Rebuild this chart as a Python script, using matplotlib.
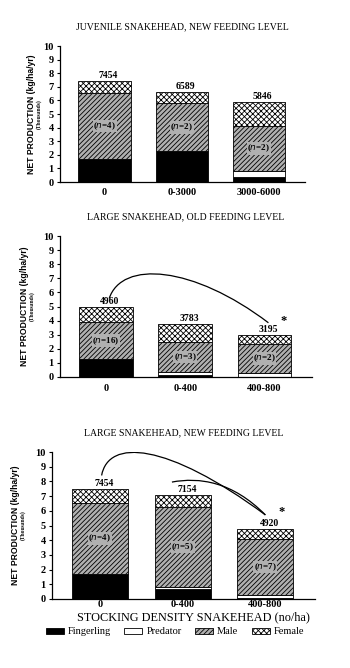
import numpy as np
import matplotlib
matplotlib.use("Agg")
import matplotlib.pyplot as plt
from matplotlib.path import Path
from matplotlib.patches import PathPatch, Patch

plt.rcParams['hatch.linewidth'] = 0.6
plt.rcParams['font.family'] = 'Liberation Serif'

# ---- data (thousands kg/ha/yr) ----
titles = ["JUVENILE SNAKEHEAD, NEW FEEDING LEVEL",
          "LARGE SNAKEHEAD, OLD FEEDING LEVEL",
          "LARGE SNAKEHEAD, NEW FEEDING LEVEL"]
cats_juv = ["0", "0-3000", "3000-6000"]
cats_old = ["0", "0-400", "400-800"]
cats_new = ["0", "0-400", "400-800"]

fing_juv = [1.70, 2.25, 0.35]
pred_juv = [0.00, 0.00, 0.45]
male_juv = [4.85, 3.55, 3.35]
fem_juv = [0.90, 0.79, 1.70]
tot_juv = [7454, 6589, 5846]
n_juv = [4, 2, 2]

fing_old = [1.25, 0.15, 0.00]
pred_old = [0.00, 0.20, 0.30]
male_old = [2.65, 2.15, 2.05]
fem_old = [1.06, 1.28, 0.62]
tot_old = [4960, 3783, 3195]
n_old = [16, 3, 2]

fing_new = [1.70, 0.65, 0.10]
pred_new = [0.00, 0.20, 0.15]
male_new = [4.85, 5.40, 3.85]
fem_new = [0.90, 0.80, 0.65]
tot_new = [7454, 7154, 4920]
n_new = [4, 5, 7]

panels = [
    (cats_juv, fing_juv, pred_juv, male_juv, fem_juv, tot_juv, n_juv),
    (cats_old, fing_old, pred_old, male_old, fem_old, tot_old, n_old),
    (cats_new, fing_new, pred_new, male_new, fem_new, tot_new, n_new),
]

fig = plt.figure(figsize=(3.5, 6.68), dpi=100)
W, H = 350, 668
# axes boxes in pixels: left, top, right, bottom
boxes = [(60, 46, 305, 182), (60, 236, 312, 377), (52, 452, 315, 599)]
label_x = [(-0.115, -0.088), (-0.14, -0.11), (-0.14, -0.11)]
xpad = [4, 5, 1]

styles = [dict(color='black', hatch=None),
          dict(color='white', hatch=None),
          dict(color='#b0b0b0', hatch='///////'),
          dict(color='white', hatch='xxxxxx')]

axes = []
for i, (cats, f, p, m, fe, tot, n) in enumerate(panels):
    l, t, r, b = boxes[i]
    ax = fig.add_axes([l / W, 1 - b / H, (r - l) / W, (b - t) / H])
    axes.append(ax)
    x = np.arange(len(cats))
    bottom = np.zeros(len(cats))
    for vals, st in zip([f, p, m, fe], styles):
        ax.bar(x, vals, 0.68, bottom=bottom, color=st['color'],
               hatch=st['hatch'], edgecolor='black', linewidth=0.6)
        bottom = bottom + np.array(vals)
    for xi, tv, top in zip(x, tot, bottom):
        ax.text(xi + 0.05, top + 0.08, str(tv), ha='center', va='bottom',
                fontsize=7, fontweight='bold')
    for xi, ni, fi, pi, mi in zip(x, n, f, p, m):
        ax.text(xi, fi + pi + mi / 2, f"($n$={ni})", ha='center', va='center',
                fontsize=6.5, fontweight='bold',
                bbox=dict(facecolor='#b0b0b0', edgecolor='none', pad=0.3))
    ax.set_xlim(-0.58, 2.6)
    ax.set_ylim(0, 10)
    ax.set_yticks(range(0, 11))
    ax.set_xticks(x)
    ax.set_xticklabels(cats)
    ax.tick_params(axis='x', length=0, pad=xpad[i], labelsize=7.5)
    ax.tick_params(axis='y', length=2.5, width=0.8, pad=2, labelsize=7.5)
    for lab in ax.get_xticklabels() + ax.get_yticklabels():
        lab.set_fontweight('bold')
    ax.spines['top'].set_visible(False)
    ax.spines['right'].set_visible(False)
    ax.spines['left'].set_linewidth(0.9)
    ax.spines['bottom'].set_linewidth(0.9)
    ax.set_title(titles[i], fontsize=7, pad=12)
    ax.text(label_x[i][0], 0.5, "NET PRODUCTION (kg/ha/yr)", rotation=90,
            transform=ax.transAxes, ha='center', va='center', fontsize=6.2,
            family='Liberation Sans', fontweight='bold')
    ax.text(label_x[i][1], 0.5, "(Thousands)", rotation=90,
            transform=ax.transAxes, ha='center', va='center', fontsize=4,
            fontweight='bold')

# connecting curves (significance marks)
def curve(ax, p0, c1, c2, p3):
    path = Path([p0, c1, c2, p3], [Path.MOVETO, Path.CURVE4, Path.CURVE4, Path.CURVE4])
    ax.add_patch(PathPatch(path, facecolor='none', edgecolor='black', lw=0.9))

ax2 = axes[1]
curve(ax2, (0.04, tot_old[0] / 1000 + 0.6), (0.2, 8.3), (1.1, 7.9),
      (2.05, tot_old[2] / 1000 + 0.65))
ax2.text(2.24, 4.0, "*", fontsize=9, fontweight='bold', ha='center', va='center')

ax3 = axes[2]
end = (2.0, tot_new[2] / 1000 + 0.8)
curve(ax3, (0.02, tot_new[0] / 1000 + 0.95), (0.1, 10.9), (0.8, 10.7), end)
curve(ax3, (0.87, tot_new[1] / 1000 + 0.8), (1.2, 8.3), (1.6, 8.0), end)
ax3.text(2.2, 5.95, "*", fontsize=9, fontweight='bold', ha='center', va='center')

fig.text(193 / W, 1 - 617 / H, "STOCKING DENSITY SNAKEHEAD (no/ha)",
         ha='center', va='center', fontsize=8.8)

handles = [Patch(facecolor=st['color'], hatch=st['hatch'], edgecolor='black',
                 linewidth=0.6) for st in styles]
fig.legend(handles, ["Fingerling", "Predator", "Male", "Female"], ncol=4,
           loc='center', bbox_to_anchor=(0.5, 1 - 632 / H), frameon=False,
           fontsize=7.5, handlelength=1.7, handleheight=0.5, columnspacing=1.3,
           handletextpad=0.4)

fig.savefig("out.png", dpi=100)
